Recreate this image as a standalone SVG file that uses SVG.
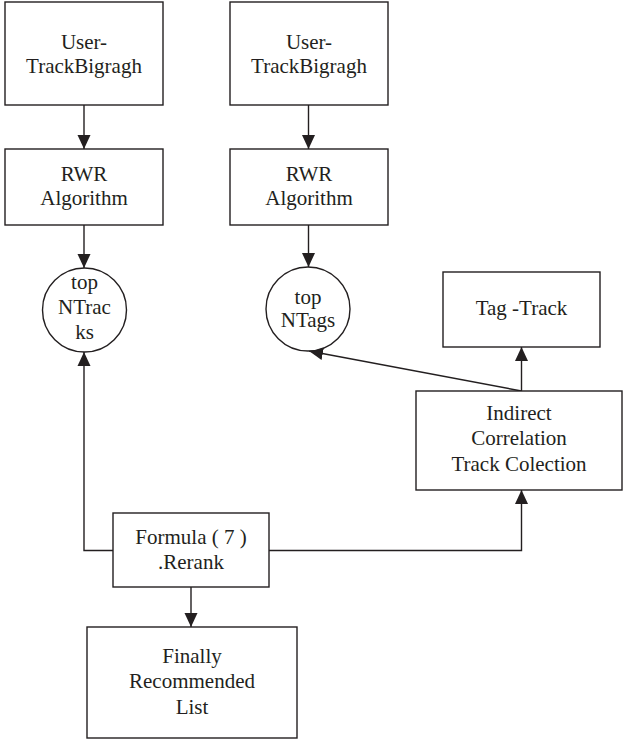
<svg xmlns="http://www.w3.org/2000/svg" width="624" height="740" viewBox="0 0 624 740">
  <style>
    .box { fill: #ffffff; stroke: #231f20; stroke-width: 1.4; }
    .conn { fill: none; stroke: #231f20; stroke-width: 1.4; marker-end: url(#arrow); }
  </style>
  <defs>
    <marker id="arrow" viewBox="0 0 14 14" refX="14" refY="7" markerWidth="14" markerHeight="14" orient="auto" markerUnits="userSpaceOnUse">
      <path d="M0,0.5 L14,7 L0,13.5 z" fill="#231f20"/>
    </marker>
  </defs>
  <rect width="624" height="740" fill="#ffffff"/>

  <g id="connectors">
    <path class="conn" d="M84,105 V149"/>
    <path class="conn" d="M308.5,105 V149"/>
    <path class="conn" d="M84,225 V268"/>
    <path class="conn" d="M308.5,225 V267"/>
    <path class="conn" d="M113,550.5 H84 V352"/>
    <path class="conn" d="M269,550.5 H521.5 V490"/>
    <path class="conn" d="M191,587 V627"/>
    <path class="conn" d="M521.5,391 V347"/>
    <path class="conn" d="M521.5,391 L309,351"/>
  </g>

  <g font-family="Liberation Serif, Tinos, DejaVu Serif, serif" font-size="21" fill="#231f20" text-anchor="middle">
  <g id="user-track-1">
    <rect class="box" x="5" y="2" width="158" height="103"/>
    <text x="84" y="48.5">User-</text>
    <text x="84" y="72.5">TrackBigragh</text>
  </g>
  <g id="user-track-2">
    <rect class="box" x="230" y="2" width="158" height="103"/>
    <text x="309" y="48.5">User-</text>
    <text x="309" y="72.5">TrackBigragh</text>
  </g>
  <g id="rwr-1">
    <rect class="box" x="5" y="149" width="158" height="76"/>
    <text x="84" y="180.5">RWR</text>
    <text x="84" y="205">Algorithm</text>
  </g>
  <g id="rwr-2">
    <rect class="box" x="230" y="149" width="158" height="76"/>
    <text x="309" y="180.5">RWR</text>
    <text x="309" y="205">Algorithm</text>
  </g>
  <g id="top-ntracks">
    <circle class="box" cx="84.5" cy="310" r="42"/>
    <text x="84.5" y="289">top</text>
    <text x="84.5" y="313.5">NTrac</text>
    <text x="84.5" y="339">ks</text>
  </g>
  <g id="top-ntags">
    <circle class="box" cx="308" cy="309" r="42"/>
    <text x="308" y="303.5">top</text>
    <text x="308" y="327">NTags</text>
  </g>
  <g id="tag-track">
    <rect class="box" x="443" y="272" width="157" height="75"/>
    <text x="521.5" y="315">Tag -Track</text>
  </g>
  <g id="indirect">
    <rect class="box" x="416" y="391" width="206" height="99"/>
    <text x="519" y="419.5">Indirect</text>
    <text x="519" y="445">Correlation</text>
    <text x="519" y="470.5">Track Colection</text>
  </g>
  <g id="formula">
    <rect class="box" x="113" y="513" width="156" height="74"/>
    <text x="191" y="543.5">Formula ( 7 )</text>
    <text x="191" y="568.5">.Rerank</text>
  </g>
  <g id="finally">
    <rect class="box" x="87" y="627" width="210" height="111"/>
    <text x="192" y="662.5">Finally</text>
    <text x="192" y="688">Recommended</text>
    <text x="192" y="713.5">List</text>
  </g>
  </g>
</svg>
